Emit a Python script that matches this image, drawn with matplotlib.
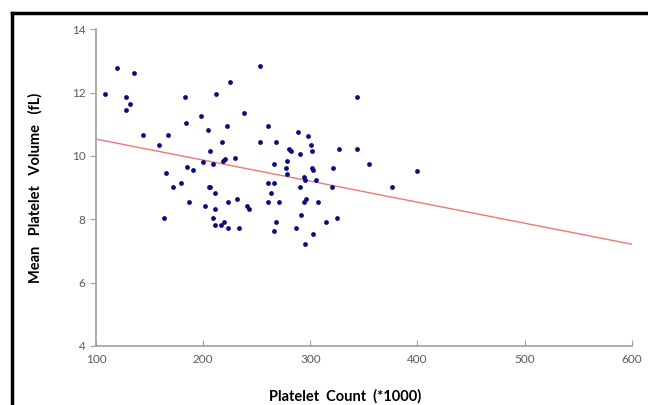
import numpy as np
import matplotlib
matplotlib.use('Agg')
import matplotlib.pyplot as plt
from matplotlib.lines import Line2D

# platelet count (*1000) and mean platelet volume (fL)
count = [108.4, 119.9, 135.4, 128, 131.7, 128, 143.8, 158.6, 166.9, 165.2,
         163.7, 172.1, 179.3, 182.8, 184, 185, 191, 186.8, 197.9, 199.8,
         202, 204.9, 206.2, 205.1, 206.6, 209.5, 209.3, 210.7, 211, 211.1,
         212, 216.6, 217.8, 219.1, 218.6, 220.9, 222, 223.2, 223.2, 225.3,
         229.4, 232, 233.2, 238.2, 240.7, 243.2, 253.5, 253.3, 261, 260.9,
         263.4, 260.4, 266, 266, 268.1, 267.6, 266, 270.8, 277.9, 277.3,
         277.9, 280.5, 282, 286.3, 289, 290.3, 290.3, 290.9, 294.3, 295.3,
         294.3, 296.2, 295.3, 297.9, 300.3, 301.5, 301.9, 302.3, 302.1, 305,
         307.5, 314.8, 320.4, 321.4, 325, 327, 343.2, 343.2, 354.7, 375.8,
         400]
mpv = [11.95, 12.76, 12.63, 11.85, 11.64, 11.44, 10.65, 10.34, 10.65, 9.45,
       8.04, 9.03, 9.13, 11.85, 11.04, 9.64, 9.54, 8.54, 11.25, 9.80,
       8.42, 10.83, 10.14, 9.03, 9.03, 9.74, 8.04, 8.33, 8.84, 7.82,
       11.95, 7.82, 10.44, 7.90, 9.84, 9.91, 10.94, 8.54, 7.73, 12.33,
       9.92, 8.63, 7.73, 11.34, 8.42, 8.33, 12.84, 10.44, 10.95, 9.13,
       8.84, 8.54, 9.13, 9.74, 10.44, 7.92, 7.62, 8.54, 9.84, 9.63,
       9.44, 10.22, 10.14, 7.73, 10.74, 10.05, 9.03, 8.12, 9.32, 9.23,
       8.54, 8.63, 7.22, 10.64, 10.34, 10.14, 9.63, 9.55, 7.52, 9.24,
       8.54, 7.92, 9.03, 9.63, 8.03, 10.22, 11.85, 10.22, 9.74, 9.03,
       9.53]

# linear trend line as drawn in the chart (value at x=100 and x=600)
trend_x = [100, 600]
trend_y = [10.53, 7.21]

plt.rcParams['font.family'] = ['Lato', 'DejaVu Sans']

fig = plt.figure(figsize=(6.48, 4.05), dpi=100)
ax = fig.add_axes([0.148, 0.146, 0.827, 0.782])

ax.scatter(count, mpv, s=12, color='#0c0c80', zorder=3, linewidths=0)
ax.plot(trend_x, trend_y, color='#f07878', lw=1.0, zorder=2)

ax.set_xlim(100, 600)
ax.set_ylim(4, 14)
ax.set_xticks(range(100, 601, 100))
ax.set_yticks(range(4, 15, 2))

for s in ['top', 'right']:
    ax.spines[s].set_visible(False)
for s in ['left', 'bottom']:
    ax.spines[s].set_color('#a0a0a0')
    ax.spines[s].set_linewidth(1.2)
ax.tick_params(axis='y', direction='out', length=4, color='#a0a0a0',
               labelsize=8.5, labelcolor='#595959')
ax.tick_params(axis='x', direction='in', length=4, color='#a0a0a0',
               labelsize=8.5, labelcolor='#595959', pad=6)

ax.set_xlabel('Platelet  Count  (*1000)', fontsize=10.5, fontweight='bold')
ax.xaxis.set_label_coords(0.465, -0.135)
ax.set_ylabel('Mean   Platelet   Volume   (fL)', fontsize=10.5,
              fontweight='bold', labelpad=21)

# partial black frame at the top and left of the picture
fig.add_artist(Line2D([0.018, 1.0], [0.968, 0.968], color='black', lw=2.5,
                      transform=fig.transFigure))
fig.add_artist(Line2D([0.018, 0.018], [0.0, 0.968], color='black', lw=2.5,
                      transform=fig.transFigure))

fig.savefig('out.png', dpi=100)
